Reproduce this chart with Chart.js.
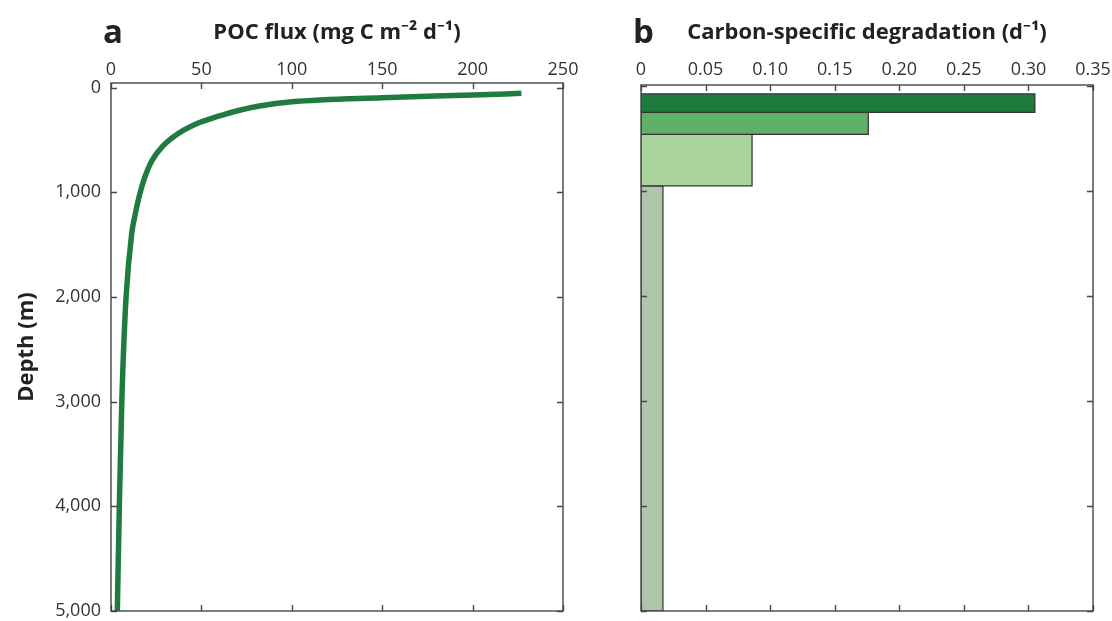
<!DOCTYPE html>
<html>
<head>
<meta charset="utf-8">
<script src="https://cdn.jsdelivr.net/npm/chart.js@4.4.1/dist/chart.umd.min.js"></script>
<style>
  html, body { margin: 0; padding: 0; background: #ffffff; }
  body { width: 1112px; height: 621px; position: relative; overflow: hidden; }
  canvas { position: absolute; top: 0; }
  #panelA { left: 0; }
  #panelB { left: 585px; }
</style>
</head>
<body>
<canvas id="panelA" width="585" height="621"></canvas>
<canvas id="panelB" width="527" height="621"></canvas>
<script>
// ---- Panel a: POC flux profile (depth in m, flux in mg C m-2 d-1) ----
const fluxDepths = [54, 70, 95, 134, 175, 220, 270, 340, 440, 560, 700, 850, 1010, 1200, 1400, 2011, 2664, 2982, 4000, 5000];
const fluxValues = [227, 200, 150, 100, 82, 70, 60, 48, 37, 28.5, 22.5, 18.8, 16, 13.5, 11.4, 8.3, 6.6, 6.0, 4.6, 3.5];
const fluxTicks = [0, 50, 100, 150, 200, 250];

// ---- Panel b: carbon-specific degradation by depth layer ----
const layerTops = [75, 250, 460, 950];
const layerBottoms = [250, 460, 950, 5000];
const degradationRates = [0.305, 0.176, 0.086, 0.017];
const rateTicks = [0, 0.05, 0.10, 0.15, 0.20, 0.25, 0.30, 0.35];
const rateTickLabels = ['0', '0.05', '0.10', '0.15', '0.20', '0.25', '0.30', '0.35'];

// shared depth axis
const depthTicks = [0, 1000, 2000, 3000, 4000, 5000];

const layerColors = ['#1f7a3e', '#5eb166', '#a9d59d', '#aec6aa'];
const FONT = '"Open Sans", "Noto Sans", "DejaVu Sans", sans-serif';
const INK = '#333333';

// box frame with inward tick marks on all four sides
const frameTicks = {
  id: 'frameTicks',
  afterDraw(chart) {
    const { ctx, chartArea: a, scales } = chart;
    const L = 6;
    ctx.save();
    ctx.strokeStyle = '#454545';
    ctx.lineWidth = 1.4;
    ctx.beginPath();
    scales.x.ticks.forEach(t => {
      const px = Math.round(scales.x.getPixelForValue(t.value)) + 0.5;
      ctx.moveTo(px, a.top); ctx.lineTo(px, a.top + L);
      ctx.moveTo(px, a.bottom); ctx.lineTo(px, a.bottom - L);
    });
    scales.y.ticks.forEach(t => {
      const py = Math.round(scales.y.getPixelForValue(t.value)) + 0.5;
      ctx.moveTo(a.left, py); ctx.lineTo(a.left + L, py);
      ctx.moveTo(a.right, py); ctx.lineTo(a.right - L, py);
    });
    ctx.stroke();
    ctx.strokeRect(a.left, a.top, a.right - a.left, a.bottom - a.top);
    ctx.restore();
  }
};

// bold panel letter just left of the plot area
const panelLetter = {
  id: 'panelLetter',
  afterDraw(chart, args, opts) {
    const { ctx, chartArea: a } = chart;
    ctx.save();
    ctx.font = 'bold 33px ' + FONT;
    ctx.fillStyle = '#222222';
    ctx.textAlign = 'left';
    ctx.textBaseline = 'alphabetic';
    ctx.fillText(opts.text, a.left - 8, 43);
    ctx.restore();
  }
};

function fixedTicks(values) {
  return scale => { scale.ticks = values.map(v => ({ value: v })); };
}

// profile points ordered by increasing flux for a monotone spline
const profilePoints = fluxDepths.map((d, i) => ({ x: fluxValues[i], y: d })).reverse();

// ---- Chart a ----
new Chart(document.getElementById('panelA'), {
  type: 'line',
  data: {
    datasets: [{
      data: profilePoints,
      borderColor: '#1f7b3f',
      borderWidth: 5.5,
      pointRadius: 0,
      fill: false,
      cubicInterpolationMode: 'monotone'
    }]
  },
  options: {
    responsive: false,
    animation: false,
    events: [],
    layout: { padding: { left: 0, top: 0, right: 22, bottom: 10 } },
    plugins: {
      legend: { display: false },
      tooltip: { enabled: false },
      panelLetter: { text: 'a' }
    },
    scales: {
      x: {
        type: 'linear',
        position: 'top',
        min: 0, max: 250,
        afterBuildTicks: fixedTicks(fluxTicks),
        afterFit: s => { s.height = 83; s.paddingLeft = 0; s.paddingRight = 0; },
        grid: { display: false, drawTicks: false },
        border: { display: false },
        ticks: { color: INK, padding: 2, font: { family: FONT, size: 18 }, maxRotation: 0 },
        title: {
          display: true,
          text: 'POC flux (mg C m⁻² d⁻¹)',
          color: '#222222',
          font: { family: FONT, size: 22, weight: 'bold' },
          padding: { top: 20, bottom: 0 }
        }
      },
      y: {
        type: 'linear',
        position: 'left',
        reverse: true,
        min: -45, max: 5000,
        afterBuildTicks: fixedTicks(depthTicks),
        afterFit: s => { s.width = 111; s.paddingTop = 0; s.paddingBottom = 0; },
        grid: { display: false, drawTicks: false },
        border: { display: false },
        ticks: {
          color: INK, padding: 10,
          font: { family: FONT, size: 18 },
          callback: v => v.toLocaleString('en-US')
        },
        title: {
          display: true,
          text: 'Depth (m)',
          color: '#222222',
          font: { family: FONT, size: 22, weight: 'bold' },
          padding: { top: 14, bottom: 0 }
        }
      }
    }
  },
  plugins: [frameTicks, panelLetter]
});

// ---- Chart b ----
const layerDatasets = degradationRates.map((r, i) => ({
  data: [
    { x: 0, y: layerTops[i] },
    { x: r, y: layerTops[i] },
    { x: r, y: layerBottoms[i] },
    { x: 0, y: layerBottoms[i] },
    { x: 0, y: layerTops[i] }
  ],
  borderColor: '#333333',
  borderWidth: 1.2,
  backgroundColor: layerColors[i],
  pointRadius: 0,
  tension: 0,
  fill: 'shape'
}));

new Chart(document.getElementById('panelB'), {
  type: 'line',
  data: { datasets: layerDatasets },
  options: {
    responsive: false,
    animation: false,
    events: [],
    layout: { padding: { left: 0, top: 0, right: 19, bottom: 10 } },
    plugins: {
      legend: { display: false },
      tooltip: { enabled: false },
      panelLetter: { text: 'b' }
    },
    scales: {
      x: {
        type: 'linear',
        position: 'top',
        min: 0, max: 0.35,
        afterBuildTicks: fixedTicks(rateTicks),
        afterFit: s => { s.height = 85; s.paddingLeft = 0; s.paddingRight = 0; },
        grid: { display: false, drawTicks: false },
        border: { display: false },
        ticks: {
          color: INK, padding: 4, maxRotation: 0,
          font: { family: FONT, size: 18 },
          callback: (v, i) => rateTickLabels[i]
        },
        title: {
          display: true,
          text: 'Carbon-specific degradation (d⁻¹)',
          color: '#222222',
          font: { family: FONT, size: 22, weight: 'bold' },
          padding: { top: 20, bottom: 0 }
        }
      },
      y: {
        type: 'linear',
        position: 'left',
        reverse: true,
        min: -10, max: 5000,
        afterBuildTicks: fixedTicks(depthTicks),
        afterFit: s => { s.width = 56; s.paddingTop = 0; s.paddingBottom = 0; },
        grid: { display: false, drawTicks: false },
        border: { display: false },
        ticks: { display: false }
      }
    }
  },
  plugins: [frameTicks, panelLetter]
});
</script>
</body>
</html>
